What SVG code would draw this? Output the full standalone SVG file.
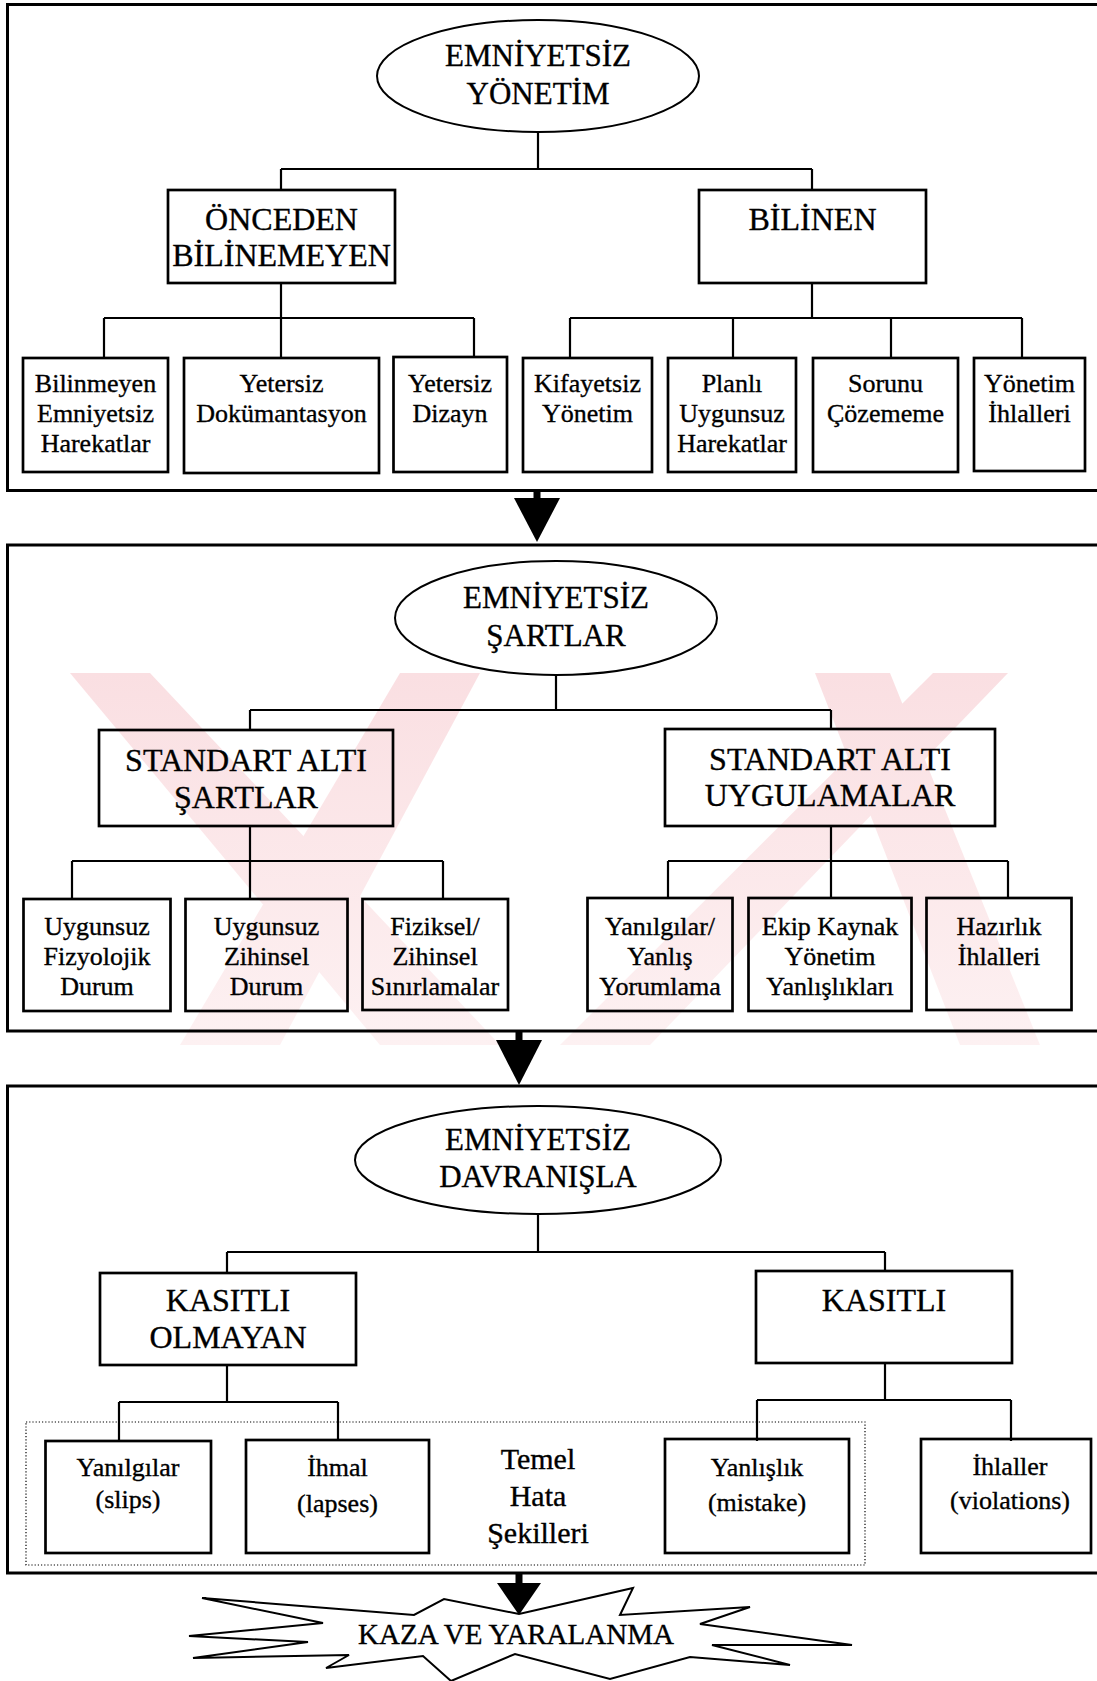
<svg xmlns="http://www.w3.org/2000/svg" width="1097" height="1681" viewBox="0 0 1097 1681">
  <style>
    text { font-family: "Liberation Serif", "Times New Roman", serif; fill: #000; stroke: #000; stroke-width: 0.35; text-anchor: middle; }
    .t-ell { font-size: 31px; }
    .t-lbl { font-size: 32px; }
    .t-leaf { font-size: 26px; }
    .t-note { font-size: 30px; }
    .t-star { font-size: 29px; }
    .panel { fill: none; stroke: #000; stroke-width: 3; }
    .box { fill: none; stroke: #000; stroke-width: 2.7; }
    .ell { fill: none; stroke: #000; stroke-width: 2; }
    .conn { fill: none; stroke: #000; stroke-width: 2.2; }
    .arrow { fill: #000; stroke: none; }
    .dots { fill: none; stroke: #000; stroke-width: 1.2; stroke-dasharray: 1.2 2; }
    .wm { fill: url(#wmGrad); }
  </style>
  <defs>
    <linearGradient id="wmGrad" x1="0" y1="673" x2="0" y2="1045" gradientUnits="userSpaceOnUse">
      <stop offset="0" stop-color="#fadfe2"/>
      <stop offset="1" stop-color="#fdf1f2"/>
    </linearGradient>
  </defs>

  <rect width="1097" height="1681" fill="#fff"/>

  <!-- pale background mark behind the middle panel -->
  <g id="watermark">
    <polygon class="wm" points="70,673 150,673 500,1045 380,1045"/>
    <polygon class="wm" points="400,673 480,673 280,1045 180,1045"/>
    <polygon class="wm" points="815,673 890,673 1040,1045 960,1045"/>
    <polygon class="wm" points="933,673 1008,673 650,1045 560,1045"/>
  </g>

  <!-- three stage panels (open on the right edge) -->
  <g id="panels">
    <rect class="panel" x="7.5" y="4.5" width="1100" height="486"/>
    <rect class="panel" x="7.5" y="545" width="1100" height="486"/>
    <rect class="panel" x="7.5" y="1086" width="1100" height="487"/>
    <rect class="dots" x="26" y="1422" width="839" height="143"/>
  </g>

  <!-- tree connectors -->
  <g id="connectors">
    <!-- stage 1 -->
    <path class="conn" d="M538,132 V169 M281,169 H812 M281,169 V190 M812,169 V190"/>
    <path class="conn" d="M281,283 V318 M104,318 H474 M104,318 V358 M281,318 V358 M474,318 V358"/>
    <path class="conn" d="M812,283 V318 M570,318 H1022 M570,318 V358 M733,318 V358 M891,318 V358 M1022,318 V358"/>
    <!-- stage 2 -->
    <path class="conn" d="M556,675 V710 M250,710 H831 M250,710 V730 M831,710 V729"/>
    <path class="conn" d="M250,826 V861 M72,861 H443 M72,861 V899 M250,861 V899 M443,861 V899"/>
    <path class="conn" d="M831,826 V861 M668,861 H1008 M668,861 V899 M831,861 V899 M1008,861 V899"/>
    <!-- stage 3 -->
    <path class="conn" d="M538,1214 V1252 M227,1252 H885 M227,1252 V1273 M885,1252 V1271"/>
    <path class="conn" d="M227,1365 V1402 M119,1402 H338 M119,1402 V1441 M338,1402 V1441"/>
    <path class="conn" d="M885,1363 V1400 M757,1400 H1011 M757,1400 V1441 M1011,1400 V1441"/>
    <!-- flow arrows between stages -->
    <rect class="arrow" x="533.5" y="489" width="7" height="10"/>
    <polygon class="arrow" points="514,498 560,498 537,542"/>
    <rect class="arrow" x="515.5" y="1030" width="7" height="11"/>
    <polygon class="arrow" points="496,1040 542,1040 519,1085"/>
    <rect class="arrow" x="515.5" y="1572" width="7" height="12"/>
    <polygon class="arrow" points="497,1583 541,1583 519,1615"/>
  </g>

  <!-- stage 1: unsafe management -->
  <g id="emniyetsiz-yonetim">
    <ellipse class="ell" cx="538" cy="76" rx="161" ry="56"/>
    <text class="t-ell" x="538" y="66">EMNİYETSİZ</text>
    <text class="t-ell" x="538" y="104">YÖNETİM</text>
  </g>
  <g id="onceden-bilinemeyen">
    <rect class="box" x="168" y="190" width="227" height="93"/>
    <text class="t-lbl" x="281.5" y="230">ÖNCEDEN</text>
    <text class="t-lbl" x="281.5" y="266">BİLİNEMEYEN</text>
  </g>
  <g id="bilinen">
    <rect class="box" x="699" y="190" width="227" height="93"/>
    <text class="t-lbl" x="812.5" y="230">BİLİNEN</text>
  </g>
  <g id="bilinmeyen-emniyetsiz-harekatlar">
    <rect class="box" x="23" y="358" width="145" height="114"/>
    <text class="t-leaf" x="95.5" y="392">Bilinmeyen</text>
    <text class="t-leaf" x="95.5" y="422">Emniyetsiz</text>
    <text class="t-leaf" x="95.5" y="452">Harekatlar</text>
  </g>
  <g id="yetersiz-dokumantasyon">
    <rect class="box" x="184" y="358" width="195" height="115"/>
    <text class="t-leaf" x="281.5" y="392">Yetersiz</text>
    <text class="t-leaf" x="281.5" y="422">Dokümantasyon</text>
  </g>
  <g id="yetersiz-dizayn">
    <rect class="box" x="393.5" y="357" width="113.5" height="115"/>
    <text class="t-leaf" x="450" y="392">Yetersiz</text>
    <text class="t-leaf" x="450" y="422">Dizayn</text>
  </g>
  <g id="kifayetsiz-yonetim">
    <rect class="box" x="523" y="358" width="129" height="114"/>
    <text class="t-leaf" x="587.5" y="392">Kifayetsiz</text>
    <text class="t-leaf" x="587.5" y="422">Yönetim</text>
  </g>
  <g id="planli-uygunsuz-harekatlar">
    <rect class="box" x="668" y="358" width="128" height="114"/>
    <text class="t-leaf" x="732" y="392">Planlı</text>
    <text class="t-leaf" x="732" y="422">Uygunsuz</text>
    <text class="t-leaf" x="732" y="452">Harekatlar</text>
  </g>
  <g id="sorunu-cozememe">
    <rect class="box" x="813" y="358" width="145" height="114"/>
    <text class="t-leaf" x="885.5" y="392">Sorunu</text>
    <text class="t-leaf" x="885.5" y="422">Çözememe</text>
  </g>
  <g id="yonetim-ihlalleri">
    <rect class="box" x="974" y="358" width="111" height="113"/>
    <text class="t-leaf" x="1029.5" y="392">Yönetim</text>
    <text class="t-leaf" x="1029.5" y="422">İhlalleri</text>
  </g>

  <!-- stage 2: unsafe conditions -->
  <g id="emniyetsiz-sartlar">
    <ellipse class="ell" cx="556" cy="618" rx="161" ry="57"/>
    <text class="t-ell" x="556" y="608">EMNİYETSİZ</text>
    <text class="t-ell" x="556" y="646">ŞARTLAR</text>
  </g>
  <g id="standart-alti-sartlar">
    <rect class="box" x="99" y="730" width="294" height="96"/>
    <text class="t-lbl" x="246" y="771">STANDART ALTI</text>
    <text class="t-lbl" x="246" y="808">ŞARTLAR</text>
  </g>
  <g id="standart-alti-uygulamalar">
    <rect class="box" x="665" y="729" width="330" height="97"/>
    <text class="t-lbl" x="830" y="770">STANDART ALTI</text>
    <text class="t-lbl" x="830" y="806">UYGULAMALAR</text>
  </g>
  <g id="uygunsuz-fizyolojik-durum">
    <rect class="box" x="23.5" y="899" width="147" height="112"/>
    <text class="t-leaf" x="97" y="935">Uygunsuz</text>
    <text class="t-leaf" x="97" y="965">Fizyolojik</text>
    <text class="t-leaf" x="97" y="995">Durum</text>
  </g>
  <g id="uygunsuz-zihinsel-durum">
    <rect class="box" x="185.5" y="899" width="162" height="112"/>
    <text class="t-leaf" x="266.5" y="935">Uygunsuz</text>
    <text class="t-leaf" x="266.5" y="965">Zihinsel</text>
    <text class="t-leaf" x="266.5" y="995">Durum</text>
  </g>
  <g id="fiziksel-zihinsel-sinirlamalar">
    <rect class="box" x="362.5" y="899" width="145.5" height="111"/>
    <text class="t-leaf" x="435" y="935">Fiziksel/</text>
    <text class="t-leaf" x="435" y="965">Zihinsel</text>
    <text class="t-leaf" x="435" y="995">Sınırlamalar</text>
  </g>
  <g id="yanilgilar-yanlis-yorumlama">
    <rect class="box" x="587.5" y="898" width="145" height="113"/>
    <text class="t-leaf" x="660" y="935">Yanılgılar/</text>
    <text class="t-leaf" x="660" y="965">Yanlış</text>
    <text class="t-leaf" x="660" y="995">Yorumlama</text>
  </g>
  <g id="ekip-kaynak-yonetim-yanlisliklari">
    <rect class="box" x="748.5" y="898" width="163" height="113"/>
    <text class="t-leaf" x="830" y="935">Ekip Kaynak</text>
    <text class="t-leaf" x="830" y="965">Yönetim</text>
    <text class="t-leaf" x="830" y="995">Yanlışlıkları</text>
  </g>
  <g id="hazirlik-ihlalleri">
    <rect class="box" x="926.5" y="898" width="145" height="112"/>
    <text class="t-leaf" x="999" y="935">Hazırlık</text>
    <text class="t-leaf" x="999" y="965">İhlalleri</text>
  </g>

  <!-- stage 3: unsafe acts -->
  <g id="emniyetsiz-davranisla">
    <ellipse class="ell" cx="538" cy="1160" rx="183" ry="54"/>
    <text class="t-ell" x="538" y="1150">EMNİYETSİZ</text>
    <text class="t-ell" x="538" y="1187">DAVRANIŞLA</text>
  </g>
  <g id="kasitli-olmayan">
    <rect class="box" x="100" y="1273" width="256" height="92"/>
    <text class="t-lbl" x="228" y="1311">KASITLI</text>
    <text class="t-lbl" x="228" y="1348">OLMAYAN</text>
  </g>
  <g id="kasitli">
    <rect class="box" x="756" y="1271" width="256" height="92"/>
    <text class="t-lbl" x="884" y="1311">KASITLI</text>
  </g>
  <g id="yanilgilar">
    <rect class="box" x="45.5" y="1441" width="165.5" height="112"/>
    <text class="t-leaf" x="128" y="1476">Yanılgılar</text>
    <text class="t-leaf" x="128" y="1508">(slips)</text>
  </g>
  <g id="ihmal">
    <rect class="box" x="246" y="1440" width="183" height="113"/>
    <text class="t-leaf" x="337.5" y="1476">İhmal</text>
    <text class="t-leaf" x="337.5" y="1512">(lapses)</text>
  </g>
  <g id="temel-hata-sekilleri">
    <text class="t-note" x="538" y="1469">Temel</text>
    <text class="t-note" x="538" y="1506">Hata</text>
    <text class="t-note" x="538" y="1543">Şekilleri</text>
  </g>
  <g id="yanlislik">
    <rect class="box" x="665" y="1439" width="184" height="114"/>
    <text class="t-leaf" x="757" y="1476">Yanlışlık</text>
    <text class="t-leaf" x="757" y="1511">(mistake)</text>
  </g>
  <g id="ihlaller">
    <rect class="box" x="921" y="1439" width="170" height="114"/>
    <text class="t-leaf" x="1010" y="1475">İhlaller</text>
    <text class="t-leaf" x="1010" y="1509">(violations)</text>
  </g>

  <!-- outcome burst -->
  <g id="kaza-ve-yaralanma">
    <polygon fill="#fff" stroke="#000" stroke-width="2" stroke-linejoin="miter"
      points="202,1598 414,1615 444,1599 519,1614 633,1588 620,1615 750,1607 700,1624 852,1645 712,1645 790,1665 690,1657 610,1679 515,1654 451,1681 423,1656 326,1668 349,1655 193,1658 308,1642 189,1636 323,1623"/>
    <text class="t-star" x="516" y="1644">KAZA VE YARALANMA</text>
  </g>
</svg>
